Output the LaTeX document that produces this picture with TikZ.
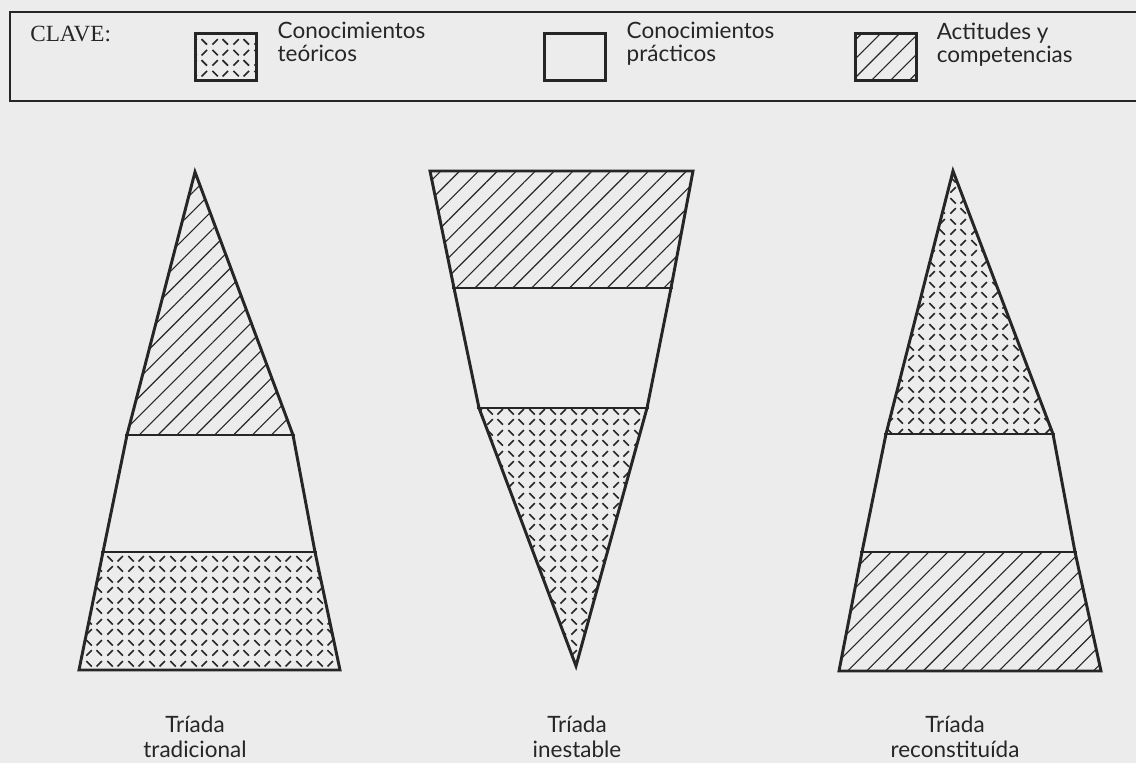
\documentclass[tikz,border=0pt]{standalone}
\usepackage{fontspec}
\setmainfont{Lato}
\newfontfamily\clavefont{Liberation Serif}
\usetikzlibrary{positioning, patterns, patterns.meta}

\definecolor{paper}{RGB}{236,236,236}
\definecolor{ink}{RGB}{38,38,38}

% checker of short diagonal marks (conocimientos teoricos)
\pgfdeclarepatternformonly{tread}{\pgfqpoint{0pt}{0pt}}{\pgfqpoint{15pt}{15pt}}{\pgfqpoint{15pt}{15pt}}{%
  \pgfsetlinewidth{1.2pt}%
  \pgfpathmoveto{\pgfqpoint{1.75pt}{1.75pt}}\pgfpathlineto{\pgfqpoint{5.75pt}{5.75pt}}%
  \pgfpathmoveto{\pgfqpoint{9.25pt}{5.75pt}}\pgfpathlineto{\pgfqpoint{13.25pt}{1.75pt}}%
  \pgfpathmoveto{\pgfqpoint{1.75pt}{13.25pt}}\pgfpathlineto{\pgfqpoint{5.75pt}{9.25pt}}%
  \pgfpathmoveto{\pgfqpoint{9.25pt}{9.25pt}}\pgfpathlineto{\pgfqpoint{13.25pt}{13.25pt}}%
  \pgfusepath{stroke}%
}

\tikzset{
  outline/.style={draw=ink, line width=2.1pt, line join=miter},
  hatch/.style={pattern={Lines[angle=45, distance=9.5pt, line width=0.8pt]}, pattern color=ink},
  dots/.style={pattern=tread, pattern color=ink},
  swatch/.style={outline, minimum width=43pt, minimum height=34pt, inner sep=0pt},
  keytext/.style={font=\fontsize{16}{16.5}\selectfont, align=left, inner sep=0pt, text=ink},
  caption/.style={font=\fontsize{16}{17.7}\selectfont, align=center, inner sep=0pt, text=ink}
}

\begin{document}
\begin{tikzpicture}[x=0.025cm, y=-0.025cm]

    \useasboundingbox (0,0) rectangle (1136,763);
    \fill[paper] (0,0) rectangle (1136,763);

    % CLAVE
    \draw[draw=ink, line width=1.8pt] (1150,12) -- (10,12) -- (10,101) -- (1150,101);
    \node[font=\clavefont\fontsize{16.5}{18}\selectfont, anchor=base west, inner sep=0pt, text=ink] (clave) at (30,41) {CLAVE:};
    \node[swatch, dots] (swTeo) at (226,57) {};
    \node[swatch] (swPra) at (575,57) {};
    \node[swatch, hatch] (swAct) at (886,57) {};
    \node[keytext, right=14pt of swTeo.north east, anchor=north west, yshift=7pt] (txtTeo) {Conocimientos\\teóricos};
    \node[keytext, right=14pt of swPra.north east, anchor=north west, yshift=7pt] (txtPra) {Conocimientos\\prácticos};
    \node[keytext, right=14pt of swAct.north east, anchor=north west, yshift=7pt] (txtAct) {Actitudes y\\competencias};

    % LEFT: triada tradicional
    \path[hatch] (195,172) -- (293,435) -- (127,435) -- cycle;
    \path[dots] (103,552) -- (315,552) -- (340,670) -- (79,670) -- cycle;
    \draw[outline] (195,172) -- (293,435) -- (315,552) -- (340,670) -- (79,670) -- (103,552) -- (127,435) -- cycle;
    \draw[outline] (125,435) -- (295,435) (101,552) -- (317,552);
    \node[caption, anchor=north] (capTrad) at (195,716) {Tríada\\tradicional};

    % MIDDLE: triada inestable
    \path[hatch] (430,171) -- (693,171) -- (671,288) -- (454,288) -- cycle;
    \path[dots] (479,408) -- (647,408) -- (576,666) -- cycle;
    \draw[outline] (430,171) -- (693,171) -- (671,288) -- (647,408) -- (576,666) -- (479,408) -- (454,288) -- cycle;
    \draw[outline] (452,288) -- (673,288) (477,408) -- (649,408);
    \node[caption, anchor=north] (capInest) at (577,716) {Tríada\\inestable};

    % RIGHT: triada reconstituida
    \path[dots] (953,171) -- (1053,434) -- (886,434) -- cycle;
    \path[hatch] (862,552) -- (1075,552) -- (1101,671) -- (839,671) -- cycle;
    \draw[outline] (953,171) -- (1053,434) -- (1075,552) -- (1101,671) -- (839,671) -- (862,552) -- (886,434) -- cycle;
    \draw[outline] (884,434) -- (1055,434) (860,552) -- (1077,552);
    \node[caption, anchor=north] (capRecon) at (955,716) {Tríada\\reconstituída};

\end{tikzpicture}
\end{document}
